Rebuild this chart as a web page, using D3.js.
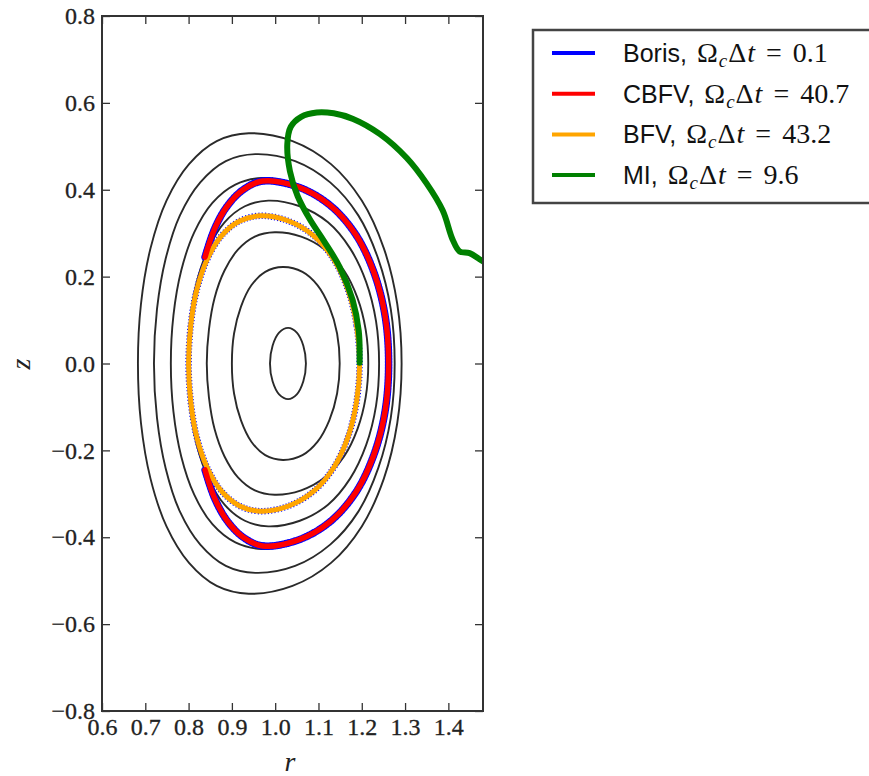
<!DOCTYPE html>
<html>
<head>
<meta charset="utf-8">
<script src="https://cdn.jsdelivr.net/npm/d3@7/dist/d3.min.js"></script>
<style>
  html, body { margin: 0; padding: 0; background: #fff; }
  svg { display: block; }
  .serif { font-family: "Liberation Serif", "Times New Roman", serif; }
  .sans { font-family: "Liberation Sans", Arial, sans-serif; }
</style>
</head>
<body>
<script>
// ---------------- DATA ----------------
const xTicks = [0.6, 0.7, 0.8, 0.9, 1.0, 1.1, 1.2, 1.3, 1.4];
const yTicks = [-0.8, -0.6, -0.4, -0.2, 0.0, 0.2, 0.4, 0.6, 0.8];
const xDomain = [0.6, 1.48];
const yDomain = [-0.8, 0.8];

// Flux-surface contours [r, z] (closed curves)
const contour1 = [[1.292,0],[1.282,0.137],[1.251,0.265],[1.200,0.375],[1.129,0.459],[1.040,0.512],[0.939,0.530],[0.865,0.512],[0.801,0.459],[0.749,0.375],[0.712,0.265],[0.690,0.137],[0.683,0],
  [0.690,-0.137],[0.712,-0.265],[0.749,-0.375],[0.801,-0.459],[0.865,-0.512],[0.939,-0.530],[1.040,-0.512],[1.129,-0.459],[1.200,-0.375],[1.251,-0.265],[1.282,-0.137]];
const contour2 = [[1.276,0],[1.267,0.125],[1.238,0.241],[1.192,0.341],[1.127,0.417],[1.046,0.466],[0.954,0.482],[0.886,0.466],[0.827,0.417],[0.780,0.341],[0.747,0.241],[0.727,0.125],[0.720,0],
  [0.727,-0.125],[0.747,-0.241],[0.780,-0.341],[0.827,-0.417],[0.886,-0.466],[0.954,-0.482],[1.046,-0.466],[1.127,-0.417],[1.192,-0.341],[1.238,-0.241],[1.267,-0.125]];
const contour3 = [[1.258,0],[1.250,0.111],[1.224,0.214],[1.182,0.302],[1.124,0.370],[1.051,0.412],[0.969,0.427],[0.908,0.412],[0.855,0.370],[0.813,0.302],[0.783,0.214],[0.765,0.111],[0.759,0],
  [0.765,-0.111],[0.783,-0.214],[0.813,-0.302],[0.855,-0.370],[0.908,-0.412],[0.969,-0.427],[1.051,-0.412],[1.124,-0.370],[1.182,-0.302],[1.224,-0.214],[1.250,-0.111]];
const contour4 = [[1.240,0],[1.233,0.097],[1.210,0.188],[1.173,0.265],[1.122,0.325],[1.057,0.362],[0.984,0.375],[0.930,0.362],[0.883,0.325],[0.846,0.265],[0.819,0.188],[0.803,0.097],[0.798,0],
  [0.803,-0.097],[0.819,-0.188],[0.846,-0.265],[0.883,-0.325],[0.930,-0.362],[0.984,-0.375],[1.057,-0.362],[1.122,-0.325],[1.173,-0.265],[1.210,-0.188],[1.233,-0.097]];
const contour5 = [[1.215,0],[1.209,0.078],[1.190,0.151],[1.159,0.214],[1.115,0.262],[1.060,0.292],[0.999,0.302],[0.953,0.292],[0.914,0.262],[0.883,0.214],[0.860,0.151],[0.847,0.078],[0.842,0],
  [0.847,-0.078],[0.860,-0.151],[0.883,-0.214],[0.914,-0.262],[0.953,-0.292],[0.999,-0.302],[1.060,-0.292],[1.115,-0.262],[1.159,-0.214],[1.190,-0.151],[1.209,-0.078]];
const contour6 = [[1.149,0],[1.143,0.069],[1.125,0.131],[1.098,0.180],[1.063,0.211],[1.018,0.222],[0.977,0.211],[0.945,0.180],[0.921,0.131],[0.905,0.069],[0.900,0],
  [0.905,-0.069],[0.921,-0.131],[0.945,-0.180],[0.977,-0.211],[1.018,-0.222],[1.063,-0.211],[1.098,-0.180],[1.125,-0.131],[1.143,-0.069]];
const contour7 = [[1.071,0],[1.065,0.041],[1.050,0.071],[1.030,0.082],[1.009,0.071],[0.994,0.041],[0.988,0],
  [0.994,-0.041],[1.009,-0.071],[1.030,-0.082],[1.050,-0.071],[1.065,-0.041]];
const contours = [contour1, contour2, contour3, contour4, contour5, contour6, contour7];

// Orbits [r, z]
const cbfvOrbit = [[0.838,0.245],[0.860,0.310],[0.889,0.362],[0.926,0.400],[0.971,0.420],[1.054,0.406],[1.127,0.364],[1.186,0.297],[1.228,0.210],[1.254,0.109],[1.262,0],
  [1.254,-0.109],[1.228,-0.210],[1.186,-0.297],[1.127,-0.364],[1.054,-0.406],[0.971,-0.420],[0.926,-0.400],[0.889,-0.362],[0.860,-0.310],[0.838,-0.245]];
const bfvOrbit = [[1.195,0],[1.188,0.088],[1.168,0.170],[1.135,0.240],[1.089,0.294],[1.031,0.328],[0.966,0.340],[0.918,0.328],[0.876,0.294],[0.843,0.240],[0.819,0.170],[0.805,0.088],[0.800,0],
  [0.805,-0.088],[0.819,-0.170],[0.843,-0.240],[0.876,-0.294],[0.918,-0.328],[0.966,-0.340],[1.031,-0.328],[1.089,-0.294],[1.135,-0.240],[1.168,-0.170],[1.188,-0.088]];
const borisOrbitOuter = cbfvOrbit;
const borisOrbitInner = bfvOrbit;
const miOrbit = [[1.195,0.002],[1.193,0.075],[1.179,0.146],[1.149,0.222],[1.112,0.283],[1.080,0.332],[1.052,0.385],[1.034,0.443],[1.028,0.505],[1.036,0.545],[1.060,0.568],[1.096,0.578],[1.135,0.576],[1.180,0.563],[1.242,0.528],[1.304,0.473],[1.350,0.414],[1.387,0.352],[1.410,0.285],[1.426,0.258],[1.449,0.254],[1.472,0.240],[1.495,0.226]];

const legendNames = ["Boris", "CBFV", "BFV", "MI"];
const legendValues = ["0.1", "40.7", "43.2", "9.6"];
const legendColors = ["#0000ff", "#ff0000", "#ffa500", "#008000"];

// ---------------- CHART ----------------
const W = 869, H = 776;
const plot = {left: 102, right: 483, top: 16, bottom: 711};

const svg = d3.select("body").append("svg").attr("width", W).attr("height", H);

const x = d3.scaleLinear().domain(xDomain).range([plot.left, plot.right]);
const y = d3.scaleLinear().domain(yDomain).range([plot.bottom, plot.top]);

svg.append("defs").append("clipPath").attr("id", "clip")
  .append("rect").attr("x", plot.left).attr("y", plot.top)
  .attr("width", plot.right - plot.left).attr("height", plot.bottom - plot.top);

const g = svg.append("g").attr("clip-path", "url(#clip)");

const closedLine = d3.line().x(d => x(d[0])).y(d => y(d[1])).curve(d3.curveCatmullRomClosed.alpha(0.5));
const openLine = d3.line().x(d => x(d[0])).y(d => y(d[1])).curve(d3.curveCatmullRom.alpha(0.5));

g.selectAll("path.contour").data(contours).join("path")
  .attr("class", "contour")
  .attr("d", closedLine)
  .attr("fill", "none").attr("stroke", "#2a2a2a").attr("stroke-width", 1.9);

// Boris (blue) underneath
g.append("path").attr("d", openLine(borisOrbitOuter))
  .attr("fill", "none").attr("stroke", legendColors[0]).attr("stroke-width", 7.5)
  .attr("stroke-dasharray", "1.5,1.5").attr("stroke-linecap", "round");
g.append("path").attr("d", closedLine(borisOrbitInner))
  .attr("fill", "none").attr("stroke", legendColors[0]).attr("stroke-width", 6.5)
  .attr("stroke-dasharray", "1.2,2");

// BFV (orange)
g.append("path").attr("d", closedLine(bfvOrbit))
  .attr("fill", "none").attr("stroke", legendColors[2]).attr("stroke-width", 5);

// CBFV (red)
g.append("path").attr("d", openLine(cbfvOrbit))
  .attr("fill", "none").attr("stroke", legendColors[1]).attr("stroke-width", 5.5)
  .attr("stroke-linecap", "round");

// MI (green)
g.append("path").attr("d", openLine(miOrbit))
  .attr("fill", "none").attr("stroke", legendColors[3]).attr("stroke-width", 6)
  .attr("stroke-linecap", "round").attr("stroke-linejoin", "round");

// Axes
const fmt = d3.format(".1f");
const styleAxis = sel => {
  sel.attr("font-family", null).attr("font-size", null);
  sel.select(".domain").remove();
  sel.selectAll(".tick line").attr("stroke", "#333").attr("stroke-width", 1.3);
  sel.selectAll(".tick text").attr("class", "serif")
    .style("font-size", "24px").attr("fill", "#222")
    .attr("stroke", "#222").attr("stroke-width", 0.3);
};

svg.append("g").attr("transform", `translate(0,${plot.bottom})`)
  .call(d3.axisBottom(x).tickValues(xTicks).tickFormat(fmt).tickSize(-8).tickSizeOuter(0).tickPadding(7))
  .call(styleAxis);
svg.append("g").attr("transform", `translate(0,${plot.top})`)
  .call(d3.axisTop(x).tickValues(xTicks).tickFormat("").tickSize(-8).tickSizeOuter(0))
  .call(styleAxis);
svg.append("g").attr("transform", `translate(${plot.left},0)`)
  .call(d3.axisLeft(y).tickValues(yTicks).tickFormat(fmt).tickSize(-8).tickSizeOuter(0).tickPadding(7))
  .call(styleAxis);
svg.append("g").attr("transform", `translate(${plot.right},0)`)
  .call(d3.axisRight(y).tickValues(yTicks).tickFormat("").tickSize(-8).tickSizeOuter(0))
  .call(styleAxis);

// Frame
svg.append("rect").attr("x", plot.left).attr("y", plot.top)
  .attr("width", plot.right - plot.left).attr("height", plot.bottom - plot.top)
  .attr("fill", "none").attr("stroke", "#333").attr("stroke-width", 2);

// Axis labels
svg.append("text").attr("class", "serif").attr("x", 290).attr("y", 771)
  .attr("text-anchor", "middle")
  .style("font-style", "italic").style("font-size", "28px").attr("fill", "#222")
  .text("r");
svg.append("text").attr("class", "serif").attr("transform", "translate(30,364) rotate(-90)")
  .attr("text-anchor", "middle")
  .style("font-style", "italic").style("font-size", "28px").attr("fill", "#222")
  .text("z");

// Legend
const legend = svg.append("g");
legend.append("rect").attr("x", 533).attr("y", 30).attr("width", 360).attr("height", 173)
  .attr("fill", "#fff").attr("stroke", "#444").attr("stroke-width", 2.5);

const rowY = i => 53 + i * 40.7;
legendNames.forEach((name, i) => {
  const cy = rowY(i);
  legend.append("line").attr("x1", 552).attr("x2", 595).attr("y1", cy).attr("y2", cy)
    .attr("stroke", legendColors[i]).attr("stroke-width", 4);
  const t = legend.append("text").attr("x", 623).attr("y", cy + 9).attr("fill", "#111");
  t.append("tspan").attr("class", "sans").style("font-size", "25px").text(name + ",");
  t.append("tspan").attr("class", "serif").style("font-size", "28px").attr("dx", 10).text("\u03A9");
  t.append("tspan").attr("class", "serif").style("font-size", "19px").style("font-style", "italic")
    .attr("dx", 1).attr("dy", 5).text("c");
  t.append("tspan").attr("class", "serif").style("font-size", "28px").attr("dx", 1).attr("dy", -5).text("\u0394");
  t.append("tspan").attr("class", "serif").style("font-size", "28px").style("font-style", "italic").attr("dx", 1).text("t");
  t.append("tspan").attr("class", "serif").style("font-size", "28px").attr("dx", 11).text("=");
  t.append("tspan").attr("class", "serif").style("font-size", "28px").attr("dx", 11).text(legendValues[i]);
});
</script>
</body>
</html>
